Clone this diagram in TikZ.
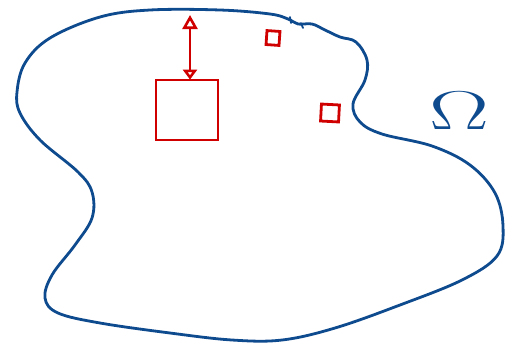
\documentclass[tikz,border=0pt]{standalone}
\usepackage{amsmath}
\usetikzlibrary{arrows.meta}
\definecolor{pen}{HTML}{0E4A8E}
\definecolor{mark}{HTML}{D00000}

\begin{document}
\begin{tikzpicture}[
  x=1pt,y=-1pt,
  rim/.style={draw=pen,line width=2.8pt,line cap=round,line join=round},
  hole/.style={rectangle,draw=mark,line width=2.8pt,inner sep=0pt},
  gap/.style={{Triangle[open,length=14pt,width=15pt,line width=2.6pt]}-{Triangle[open,length=10pt,width=14pt,line width=2.6pt]},line width=2.8pt,draw=mark,shorten <=-1pt,shorten >=-1pt},
]
  \useasboundingbox (0,0) rectangle (517,346);
  % outer boundary
  \draw[rim] plot[smooth cycle,tension=0.6] coordinates {
    (150,10) (220,10) (270,14) (288,19) (298,24) (312,24) (325,30) (340,37)
    (356,42) (367,60) (365,80) (353,104) (360,122) (382,134) (432,146)
    (470,165) (495,193) (503,226) (497,256) (462,280) (400,305) (335,328)
    (282,340) (232,340) (170,333) (100,323) (58,313) (45,298) (52,275)
    (75,245) (92,218) (92,192) (78,172) (40,140) (20,113) (17,92) (25,63)
    (50,38) (100,17)};
  \draw[rim,line width=1.8pt] (290,17) -- (291,23);
  \draw[rim,line width=1.8pt] (301,23) -- (303,28);
  \node[text=pen,font=\Huge,xscale=3.6,yscale=2.2] (omega) at (459,111) {$\Omega$};
  % holes
  \node[hole,minimum width=62pt,minimum height=60pt] (big) at (187,110) {};
  \node[hole,minimum width=13pt,minimum height=14pt,rotate=-4] (sa) at (273,38) {};
  \node[hole,minimum width=18pt,minimum height=17pt,rotate=-3] (sb) at (330,113) {};
  \coordinate (top) at (190,16);
  \draw[gap] (top) -- (big.north -| top);
\end{tikzpicture}
\end{document}
